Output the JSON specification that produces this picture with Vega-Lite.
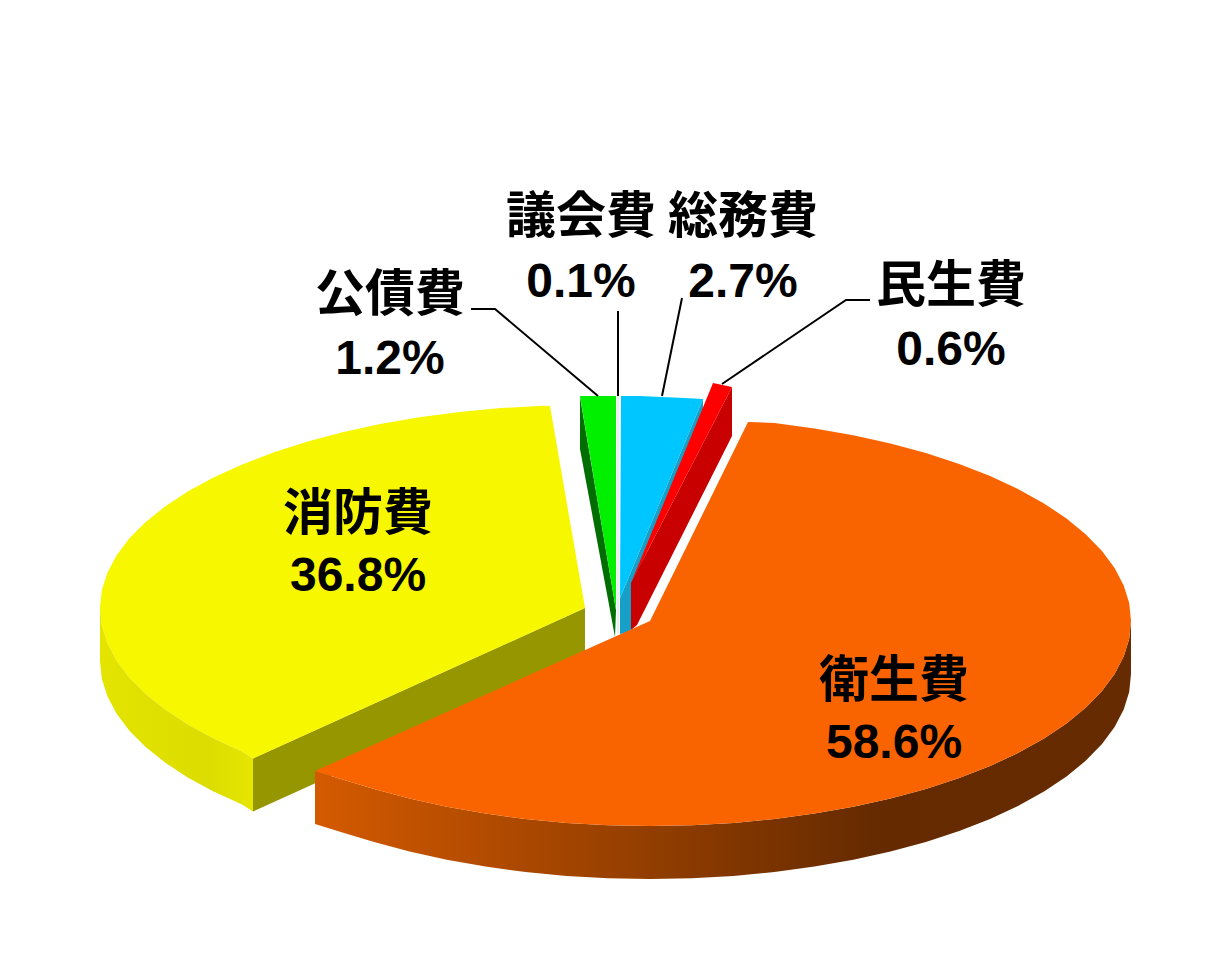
{
  "$schema": "https://vega.github.io/schema/vega-lite/v6.json",
  "width": 1224,
  "height": 980,
  "padding": 0,
  "autosize": {"type": "none"},
  "background": "white",
  "view": {"stroke": null},
  "datasets": {
    "faces": [
      {"part": "yellowCut", "i": 1, "x": 253, "y": 758.5},
      {"part": "yellowCut", "i": 2, "x": 585, "y": 608},
      {"part": "yellowCut", "i": 3, "x": 585, "y": 661},
      {"part": "yellowCut", "i": 4, "x": 253, "y": 811.5},

      {"part": "yellowTop", "i": 1, "x": 585, "y": 608},
      {"part": "yellowTop", "i": 2, "x": 550, "y": 406},
      {"part": "yellowTop", "i": 3, "x": 542.7, "y": 405.8},
      {"part": "yellowTop", "i": 4, "x": 500.8, "y": 408.1},
      {"part": "yellowTop", "i": 5, "x": 459.5, "y": 411.9},
      {"part": "yellowTop", "i": 6, "x": 419.1, "y": 417.2},
      {"part": "yellowTop", "i": 7, "x": 380, "y": 424},
      {"part": "yellowTop", "i": 8, "x": 342.5, "y": 432.2},
      {"part": "yellowTop", "i": 9, "x": 306.8, "y": 441.7},
      {"part": "yellowTop", "i": 10, "x": 273.2, "y": 452.5},
      {"part": "yellowTop", "i": 11, "x": 242.1, "y": 464.5},
      {"part": "yellowTop", "i": 12, "x": 213.5, "y": 477.5},
      {"part": "yellowTop", "i": 13, "x": 187.7, "y": 491.6},
      {"part": "yellowTop", "i": 14, "x": 165, "y": 506.5},
      {"part": "yellowTop", "i": 15, "x": 145.4, "y": 522.2},
      {"part": "yellowTop", "i": 16, "x": 129.2, "y": 538.6},
      {"part": "yellowTop", "i": 17, "x": 116.5, "y": 555.5},
      {"part": "yellowTop", "i": 18, "x": 107.4, "y": 572.8},
      {"part": "yellowTop", "i": 19, "x": 101.8, "y": 590.3},
      {"part": "yellowTop", "i": 20, "x": 100, "y": 608},
      {"part": "yellowTop", "i": 21, "x": 101.8, "y": 625.7},
      {"part": "yellowTop", "i": 22, "x": 107.4, "y": 643.2},
      {"part": "yellowTop", "i": 23, "x": 116.5, "y": 660.5},
      {"part": "yellowTop", "i": 24, "x": 129.2, "y": 677.4},
      {"part": "yellowTop", "i": 25, "x": 145.4, "y": 693.8},
      {"part": "yellowTop", "i": 26, "x": 165, "y": 709.5},
      {"part": "yellowTop", "i": 27, "x": 187.7, "y": 724.4},
      {"part": "yellowTop", "i": 28, "x": 213.5, "y": 738.5},
      {"part": "yellowTop", "i": 29, "x": 242.1, "y": 751.5},
      {"part": "yellowTop", "i": 30, "x": 253, "y": 758.5},

      {"part": "greenSide", "i": 1, "x": 580, "y": 397},
      {"part": "greenSide", "i": 2, "x": 580, "y": 449},
      {"part": "greenSide", "i": 3, "x": 615, "y": 637},
      {"part": "greenSide", "i": 4, "x": 616, "y": 610},

      {"part": "greenTop", "i": 1, "x": 580, "y": 396},
      {"part": "greenTop", "i": 2, "x": 616, "y": 396},
      {"part": "greenTop", "i": 3, "x": 616, "y": 610},

      {"part": "blueSide", "i": 1, "x": 703, "y": 399},
      {"part": "blueSide", "i": 2, "x": 703, "y": 415},
      {"part": "blueSide", "i": 3, "x": 631, "y": 590},
      {"part": "blueSide", "i": 4, "x": 631, "y": 632},
      {"part": "blueSide", "i": 5, "x": 620, "y": 634},
      {"part": "blueSide", "i": 6, "x": 620, "y": 598},

      {"part": "blueTop", "i": 1, "x": 621, "y": 396},
      {"part": "blueTop", "i": 2, "x": 640, "y": 396},
      {"part": "blueTop", "i": 3, "x": 662, "y": 397},
      {"part": "blueTop", "i": 4, "x": 685, "y": 398},
      {"part": "blueTop", "i": 5, "x": 703, "y": 399},
      {"part": "blueTop", "i": 6, "x": 620, "y": 598},

      {"part": "redSide", "i": 1, "x": 732, "y": 387},
      {"part": "redSide", "i": 2, "x": 732, "y": 436},
      {"part": "redSide", "i": 3, "x": 637, "y": 625},
      {"part": "redSide", "i": 4, "x": 631, "y": 630},
      {"part": "redSide", "i": 5, "x": 631, "y": 583},

      {"part": "redTop", "i": 1, "x": 713, "y": 383},
      {"part": "redTop", "i": 2, "x": 732, "y": 387},
      {"part": "redTop", "i": 3, "x": 631, "y": 583}
    ],
    "orangeTop": [
      {"i": 1, "x": 650, "y": 621},
      {"i": 2, "x": 748, "y": 422},
      {"i": 3, "x": 774.5, "y": 423},
      {"i": 4, "x": 814.5, "y": 428.4},
      {"i": 5, "x": 853.3, "y": 435.2},
      {"i": 6, "x": 890.5, "y": 443.5},
      {"i": 7, "x": 925.9, "y": 453.1},
      {"i": 8, "x": 959.2, "y": 464},
      {"i": 9, "x": 990.1, "y": 476},
      {"i": 10, "x": 1018.4, "y": 489.2},
      {"i": 11, "x": 1044, "y": 503.4},
      {"i": 12, "x": 1066.5, "y": 518.5},
      {"i": 13, "x": 1085.9, "y": 534.4},
      {"i": 14, "x": 1102, "y": 550.9},
      {"i": 15, "x": 1114.6, "y": 567.9},
      {"i": 16, "x": 1123.7, "y": 585.4},
      {"i": 17, "x": 1129.2, "y": 603.1},
      {"i": 18, "x": 1131, "y": 621},
      {"i": 19, "x": 1129.2, "y": 638.9},
      {"i": 20, "x": 1123.7, "y": 656.6},
      {"i": 21, "x": 1114.6, "y": 674.1},
      {"i": 22, "x": 1102, "y": 691.1},
      {"i": 23, "x": 1085.9, "y": 707.6},
      {"i": 24, "x": 1066.5, "y": 723.5},
      {"i": 25, "x": 1044, "y": 738.6},
      {"i": 26, "x": 1018.4, "y": 752.8},
      {"i": 27, "x": 990.1, "y": 766},
      {"i": 28, "x": 959.2, "y": 778},
      {"i": 29, "x": 925.9, "y": 788.9},
      {"i": 30, "x": 890.5, "y": 798.5},
      {"i": 31, "x": 853.3, "y": 806.8},
      {"i": 32, "x": 814.5, "y": 813.6},
      {"i": 33, "x": 774.5, "y": 819},
      {"i": 34, "x": 733.5, "y": 822.9},
      {"i": 35, "x": 691.9, "y": 825.2},
      {"i": 36, "x": 650, "y": 826},
      {"i": 37, "x": 608.1, "y": 825.2},
      {"i": 38, "x": 566.5, "y": 822.9},
      {"i": 39, "x": 525.5, "y": 819},
      {"i": 40, "x": 485.5, "y": 813.6},
      {"i": 41, "x": 446.7, "y": 806.8},
      {"i": 42, "x": 409.5, "y": 798.5},
      {"i": 43, "x": 374.1, "y": 788.9},
      {"i": 44, "x": 340.8, "y": 779},
      {"i": 45, "x": 315, "y": 771}
    ],
    "yellowWall": [
      {"x": 100, "y": 608, "y2": 661},
      {"x": 101.8, "y": 625.7, "y2": 678.7},
      {"x": 107.4, "y": 643.2, "y2": 696.2},
      {"x": 116.5, "y": 660.5, "y2": 713.5},
      {"x": 129.2, "y": 677.4, "y2": 730.4},
      {"x": 145.4, "y": 693.8, "y2": 746.8},
      {"x": 165, "y": 709.5, "y2": 762.5},
      {"x": 187.7, "y": 724.4, "y2": 777.4},
      {"x": 213.5, "y": 738.5, "y2": 791.5},
      {"x": 242.1, "y": 751.5, "y2": 804.5},
      {"x": 253, "y": 758.5, "y2": 811.5}
    ],
    "orangeWall": [
      {"x": 315, "y": 771, "y2": 824},
      {"x": 340.8, "y": 779, "y2": 832},
      {"x": 374.1, "y": 788.9, "y2": 841.9},
      {"x": 409.5, "y": 798.5, "y2": 851.5},
      {"x": 446.7, "y": 806.8, "y2": 859.8},
      {"x": 485.5, "y": 813.6, "y2": 866.6},
      {"x": 525.5, "y": 819, "y2": 872},
      {"x": 566.5, "y": 822.9, "y2": 875.9},
      {"x": 608.1, "y": 825.2, "y2": 878.2},
      {"x": 650, "y": 826, "y2": 879},
      {"x": 691.9, "y": 825.2, "y2": 878.2},
      {"x": 733.5, "y": 822.9, "y2": 875.9},
      {"x": 774.5, "y": 819, "y2": 872},
      {"x": 814.5, "y": 813.6, "y2": 866.6},
      {"x": 853.3, "y": 806.8, "y2": 859.8},
      {"x": 890.5, "y": 798.5, "y2": 851.5},
      {"x": 925.9, "y": 788.9, "y2": 841.9},
      {"x": 959.2, "y": 778, "y2": 831},
      {"x": 990.1, "y": 766, "y2": 819},
      {"x": 1018.4, "y": 752.8, "y2": 805.8},
      {"x": 1044, "y": 738.6, "y2": 791.6},
      {"x": 1066.5, "y": 723.5, "y2": 776.5},
      {"x": 1085.9, "y": 707.6, "y2": 760.6},
      {"x": 1102, "y": 691.1, "y2": 744.1},
      {"x": 1114.6, "y": 674.1, "y2": 727.1},
      {"x": 1123.7, "y": 656.6, "y2": 709.6},
      {"x": 1129.2, "y": 638.9, "y2": 691.9},
      {"x": 1131, "y": 621, "y2": 674}
    ],
    "sliver": [
      {"i": 1, "x": 618, "y": 396},
      {"i": 2, "x": 618, "y": 634}
    ],
    "leaders": [
      {"name": "公債費", "i": 1, "x": 471, "y": 309},
      {"name": "公債費", "i": 2, "x": 495, "y": 309},
      {"name": "公債費", "i": 3, "x": 598, "y": 396},
      {"name": "議会費", "i": 1, "x": 618, "y": 311},
      {"name": "議会費", "i": 2, "x": 618, "y": 396},
      {"name": "総務費", "i": 1, "x": 682, "y": 298},
      {"name": "総務費", "i": 2, "x": 662, "y": 396},
      {"name": "民生費", "i": 1, "x": 870, "y": 300},
      {"name": "民生費", "i": 2, "x": 846, "y": 300},
      {"name": "民生費", "i": 3, "x": 722, "y": 384}
    ],
    "labels": [
      {"name": "議会費", "share": 0.001, "x": 581, "yName": 218, "yShare": 283},
      {"name": "総務費", "share": 0.027, "x": 743, "yName": 218, "yShare": 283},
      {"name": "民生費", "share": 0.006, "x": 951, "yName": 287, "yShare": 351},
      {"name": "公債費", "share": 0.012, "x": 390, "yName": 296, "yShare": 360},
      {"name": "消防費", "share": 0.368, "x": 358, "yName": 515, "yShare": 577},
      {"name": "衛生費", "share": 0.586, "x": 894, "yName": 682, "yShare": 744}
    ]
  },
  "encoding": {
    "x": {"field": "x", "type": "quantitative", "axis": null, "scale": {"domain": [0, 1224]}},
    "y": {"field": "y", "type": "quantitative", "axis": null, "scale": {"domain": [980, 0]}}
  },
  "layer": [
    {
      "data": {"name": "faces"},
      "mark": {"type": "line", "strokeWidth": 0},
      "encoding": {
        "order": {"field": "i", "type": "quantitative"},
        "fill": {
          "field": "part",
          "type": "nominal",
          "legend": null,
          "scale": {
            "domain": ["yellowCut", "yellowTop", "greenSide", "greenTop", "blueSide", "blueTop", "redSide", "redTop"],
            "range": ["#969600", "#F7F700", "#006E00", "#00F000", "#16A0C8", "#00C6FF", "#C80000", "#FF0000"]
          }
        }
      }
    },
    {
      "data": {"name": "sliver"},
      "mark": {"type": "line", "color": "#CFE3E3", "strokeWidth": 1},
      "encoding": {"order": {"field": "i", "type": "quantitative"}}
    },
    {
      "data": {"name": "yellowWall"},
      "mark": {
        "type": "area",
        "color": {
          "gradient": "linear", "x1": 0, "x2": 1, "y1": 0, "y2": 0,
          "stops": [
            {"offset": 0, "color": "#E4E400"},
            {"offset": 0.7, "color": "#DCDC00"},
            {"offset": 1, "color": "#E6E600"}
          ]
        }
      },
      "encoding": {"y2": {"field": "y2"}}
    },
    {
      "data": {"name": "orangeWall"},
      "mark": {
        "type": "area",
        "color": {
          "gradient": "linear", "x1": 0, "x2": 1, "y1": 0, "y2": 0,
          "stops": [
            {"offset": 0, "color": "#D45A00"},
            {"offset": 0.69, "color": "#652A00"},
            {"offset": 1, "color": "#662B00"}
          ]
        }
      },
      "encoding": {"y2": {"field": "y2"}}
    },
    {
      "data": {"name": "orangeTop"},
      "mark": {"type": "line", "fill": "#F96400", "strokeWidth": 0},
      "encoding": {"order": {"field": "i", "type": "quantitative"}}
    },
    {
      "data": {"name": "leaders"},
      "mark": {"type": "line", "color": "black", "strokeWidth": 2},
      "encoding": {
        "detail": {"field": "name"},
        "order": {"field": "i", "type": "quantitative"}
      }
    },
    {
      "data": {"name": "labels"},
      "mark": {"type": "text", "font": "Noto Sans CJK JP", "fontWeight": "bold", "fontSize": 50, "color": "black", "align": "center", "baseline": "middle"},
      "encoding": {
        "y": {"field": "yName", "type": "quantitative"},
        "text": {"field": "name"}
      }
    },
    {
      "data": {"name": "labels"},
      "mark": {"type": "text", "font": "Liberation Sans", "fontWeight": "bold", "fontSize": 48, "color": "black", "align": "center", "baseline": "middle"},
      "encoding": {
        "y": {"field": "yShare", "type": "quantitative"},
        "text": {"field": "share", "type": "quantitative", "format": ".1%"}
      }
    }
  ]
}
